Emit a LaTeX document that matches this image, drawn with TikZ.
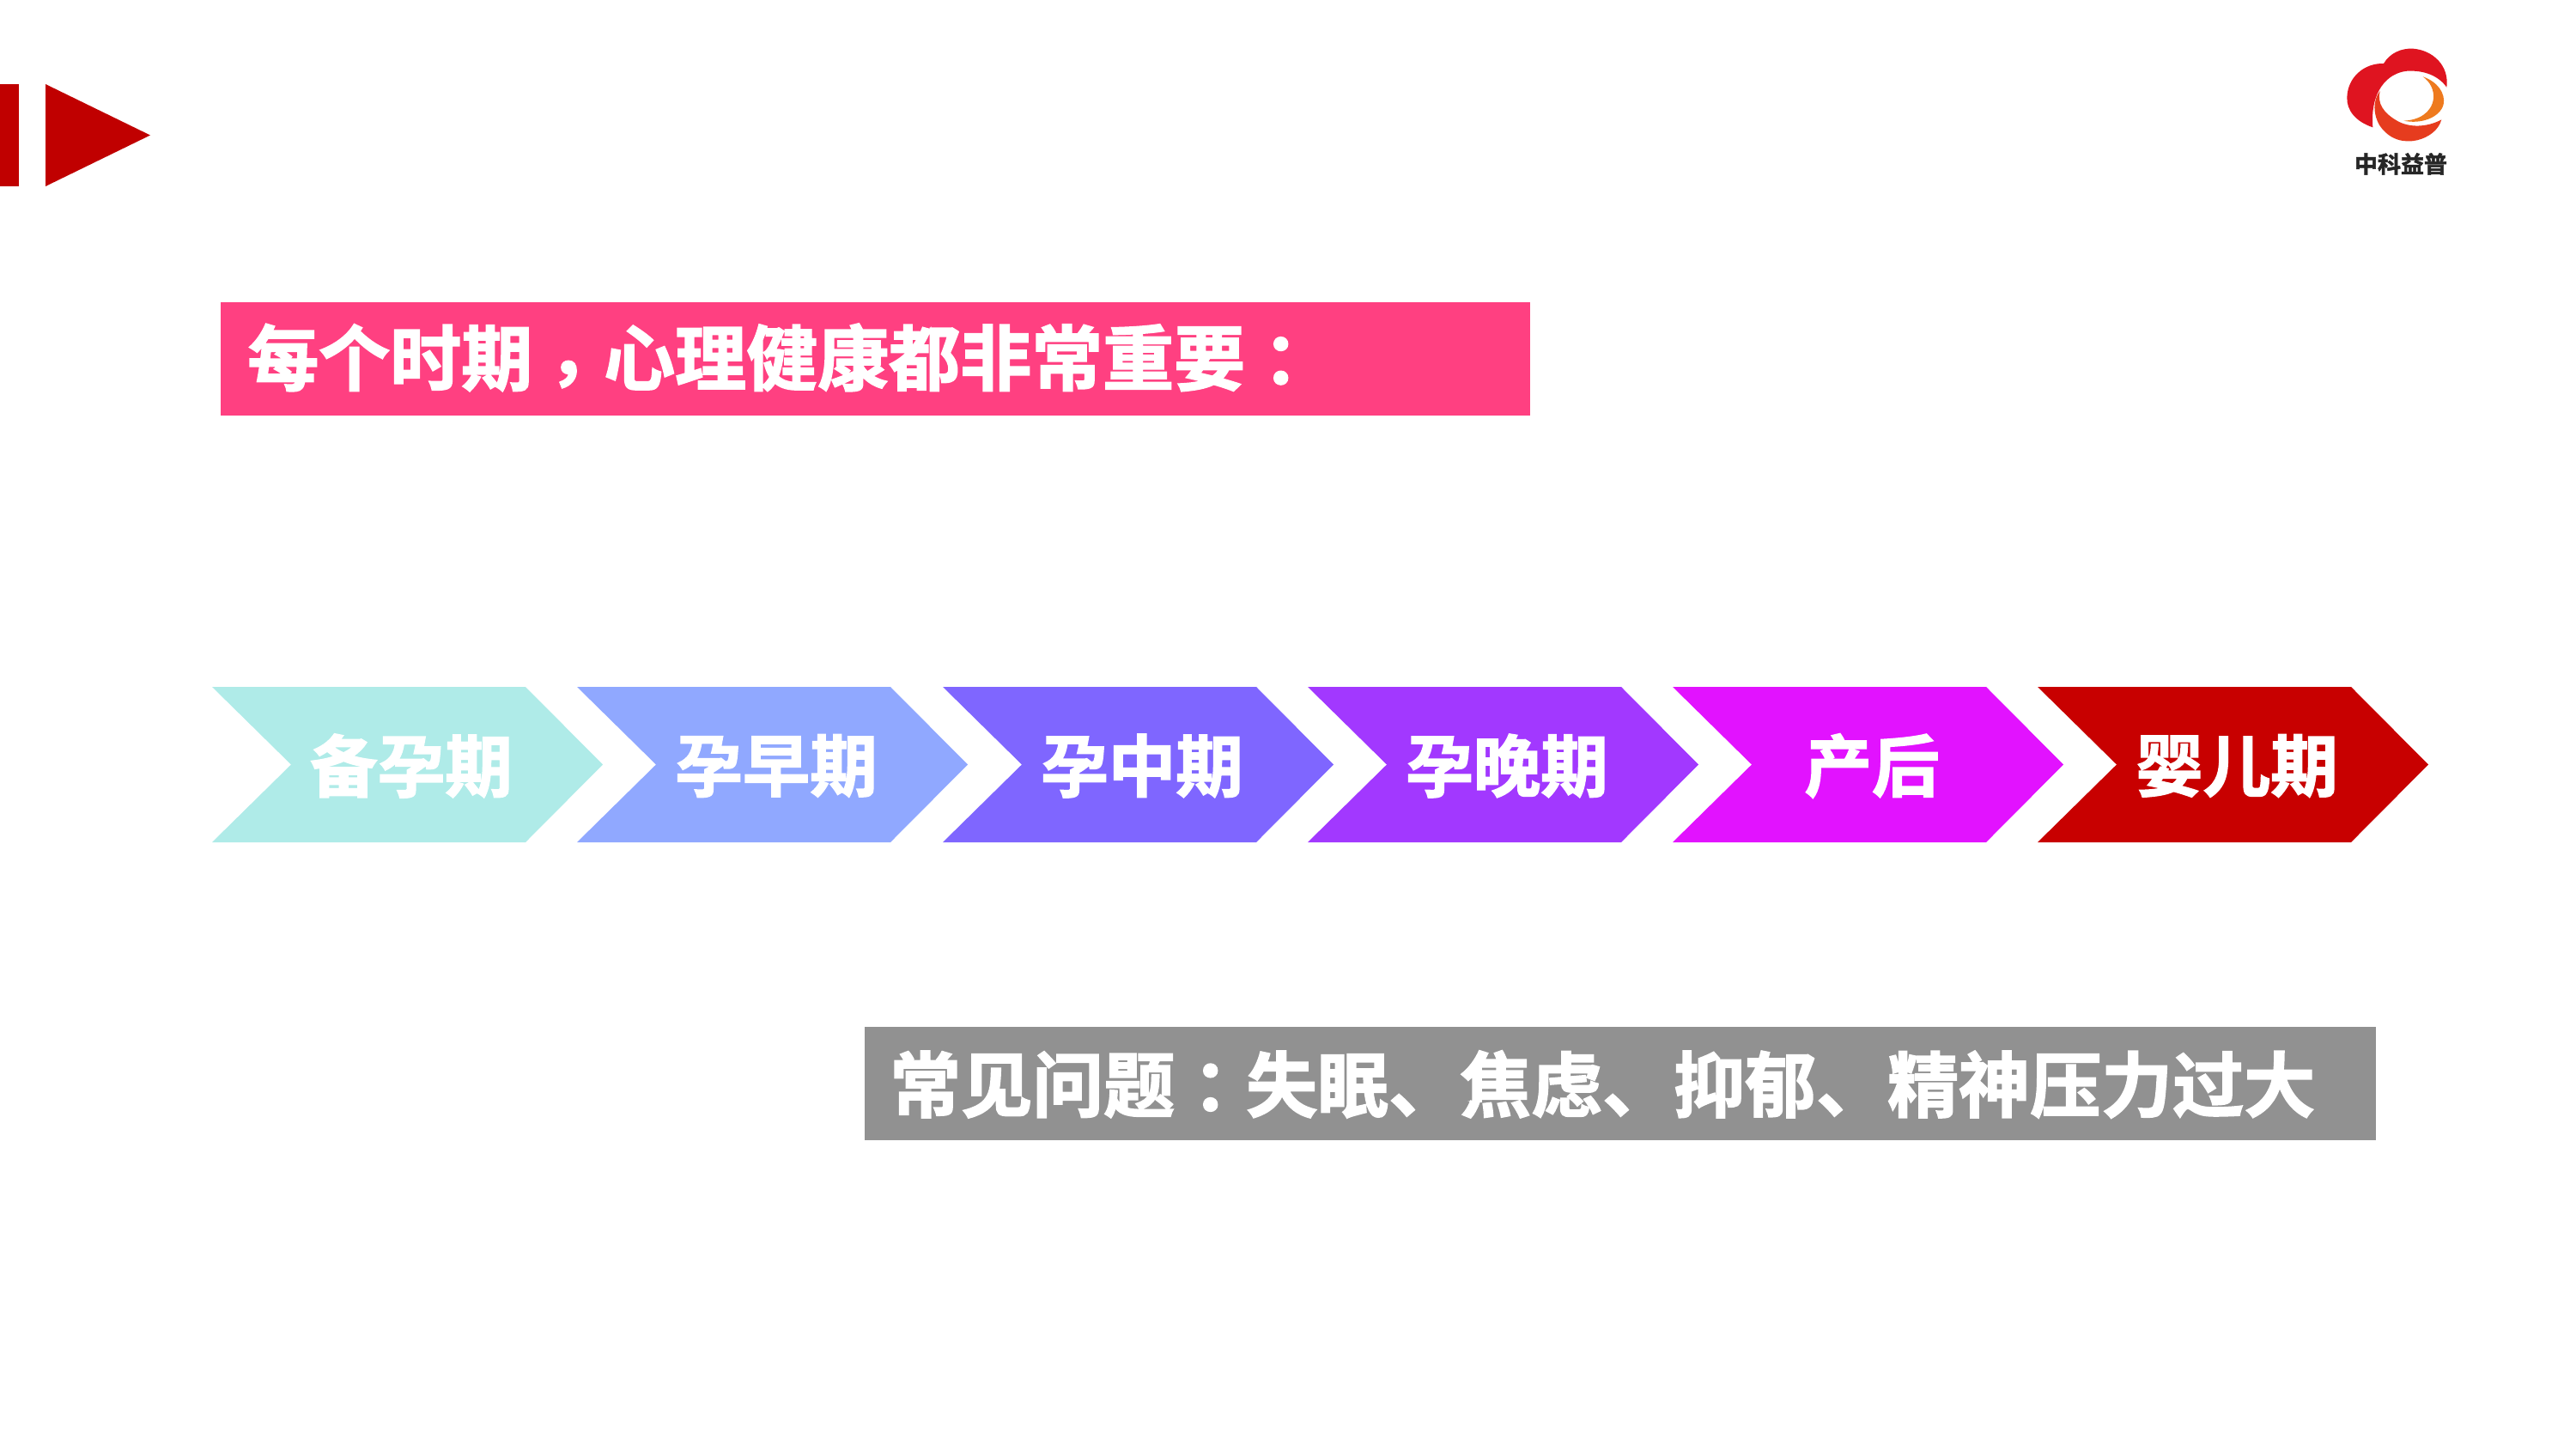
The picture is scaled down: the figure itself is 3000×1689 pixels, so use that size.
\documentclass[tikz,border=0pt]{standalone}
\usepackage{fontspec}
\newfontfamily\cjk[FakeBold=2]{Noto Sans CJK SC Bold}
\newfontfamily\cjktc[FakeBold=2]{Noto Sans CJK TC Bold}
\definecolor{cRed}{HTML}{C00000}
\definecolor{cPink}{HTML}{FF4081}
\definecolor{cGray}{HTML}{919191}
\definecolor{cA}{HTML}{AFEBE8}
\definecolor{cB}{HTML}{90A8FF}
\definecolor{cC}{HTML}{7F66FF}
\definecolor{cD}{HTML}{A238FF}
\definecolor{cE}{HTML}{E212FF}
\definecolor{cF}{HTML}{C80000}
\definecolor{logoR}{HTML}{DF1420}
\definecolor{logoM}{HTML}{E63C1E}
\definecolor{logoO}{HTML}{EE7A1E}
\tikzset{
  x=1pt,y=-1pt,
  banner/.style={inner sep=0pt,anchor=west,text=white,font=\cjk\fontsize{83}{90}\selectfont},
  chevtext/.style={inner sep=0pt,text=white,font=\cjk\fontsize{78.5}{90}\selectfont},
  chev/.style={fill=#1,draw=none},
}
\newcommand{\chevron}[4]{%
  \fill[chev=#2] (#1,800) -- (#1+365,800) -- (#1+455,890.5) -- (#1+365,981) -- (#1,981) -- (#1+92,890.5) -- cycle;
  \node[chevtext] (#3) at (#1+232,892) {#4};
}
\newcommand{\lowcomma}{\raisebox{-17pt}{\cjktc ，}}
\newcommand{\midcolon}{\raisebox{-3pt}{\cjktc ：}}
\begin{document}
\begin{tikzpicture}
\useasboundingbox (0,0) rectangle (3000,1689);
\fill[white] (0,0) rectangle (3000,1689);
% header mark
\fill[cRed] (0,98) rectangle (22,217);
\fill[cRed] (53,98) -- (175,157.5) -- (53,217) -- cycle;
% logo
\begin{scope}[shift={(2700,30)},x=0.3333pt,y=-0.3333pt]
\fill[logoR] (190,355) .. controls (130,335) and (98,295) .. (100,250)
  .. controls (102,180) and (160,130) .. (228,132)
  .. controls (250,95) and (290,78) .. (330,80)
  .. controls (400,85) and (458,140) .. (448,215)
  .. controls (420,175) and (370,155) .. (310,158)
  .. controls (240,165) and (180,230) .. (190,355) -- cycle;
\fill[logoM] (215,228) .. controls (190,260) and (190,310) .. (215,350)
  .. controls (250,400) and (300,410) .. (345,400)
  .. controls (385,390) and (420,365) .. (430,328)
  .. controls (390,350) and (330,360) .. (280,335)
  .. controls (225,305) and (205,270) .. (215,228) -- cycle;
\fill[logoO] (365,178) .. controls (415,195) and (445,235) .. (437,275)
  .. controls (425,320) and (360,345) .. (298,332)
  .. controls (350,330) and (395,305) .. (402,255)
  .. controls (405,225) and (390,195) .. (365,178) -- cycle;
\end{scope}
\node[inner sep=0pt,text=black!85,font=\cjk\fontsize{27}{30}\selectfont] (logotext) at (2796,191) {中科益普};
% pink banner
\node[fill=cPink,minimum width=1525pt,minimum height=132pt,anchor=north west,inner sep=0pt] (pinkbar) at (257,352) {};
\node[banner] (pinktext) at (288,421) {每个时期\lowcomma 心理健康都非常重要\midcolon};
% chevrons
\chevron{247}{cA}{s1}{备孕期}
\chevron{672}{cB}{s2}{孕早期}
\chevron{1098}{cC}{s3}{孕中期}
\chevron{1523}{cD}{s4}{孕晚期}
\chevron{1948}{cE}{s5}{产后}
\chevron{2373}{cF}{s6}{婴儿期}
% gray banner
\node[fill=cGray,minimum width=1760pt,minimum height=132pt,anchor=north west,inner sep=0pt] (graybar) at (1007,1196) {};
\node[banner] (graytext) at (1036,1263) {常见问题\midcolon 失眠、焦虑、抑郁、精神压力过大};
\end{tikzpicture}
\end{document}
